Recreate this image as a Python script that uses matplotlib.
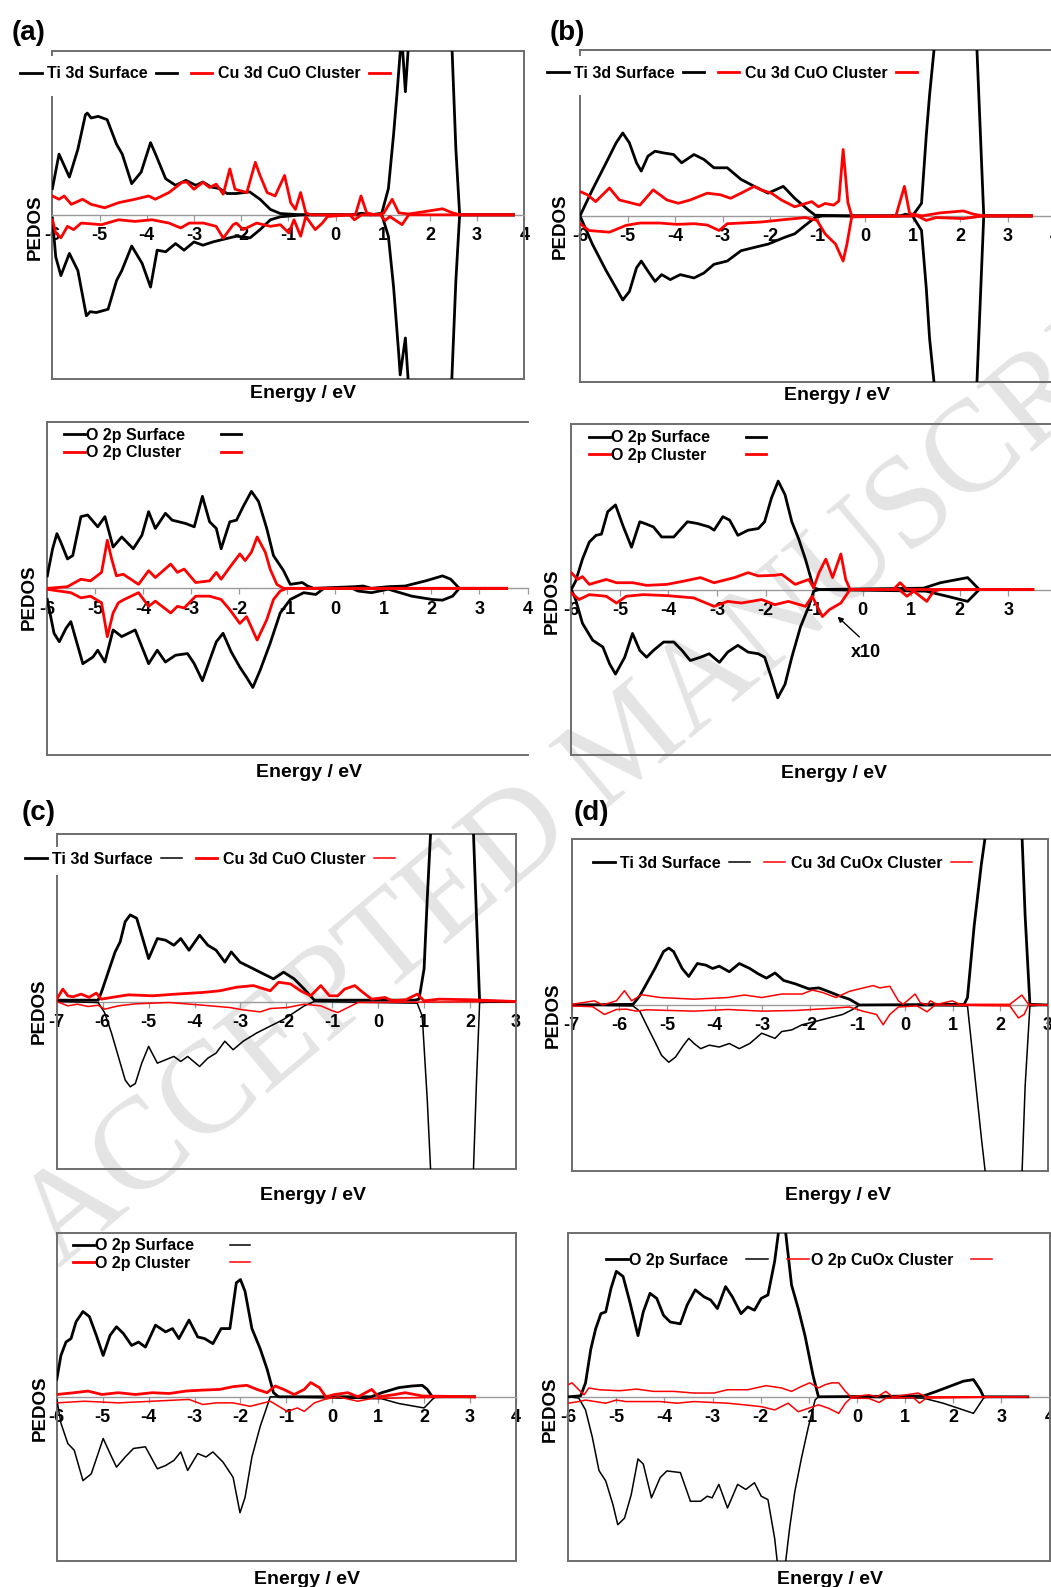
import matplotlib.pyplot as plt
from matplotlib.lines import Line2D
from matplotlib.patches import Rectangle

plt.rcParams['font.family'] = ['Liberation Sans', 'DejaVu Sans']
plt.rcParams['font.weight'] = 'bold'
plt.rcParams['axes.unicode_minus'] = False

W, H = 1051, 1587
THICK, THIN = 2.0, 1.1
BLACK, RED = 'black', '#ff0000'

# ---- (a) Ti 3d / Cu 3d : (energy eV, PEDOS) ----
a_ti_up = [(-6.0,1.6),(-5.86,3.7),(-5.64,2.3),(-5.46,4.0),(-5.3,6.1),(-5.26,6.2),(-5.18,5.9),(-5.03,6.0),(-4.84,5.8),(-4.64,4.3),(-4.52,3.7),(-4.32,1.9),(-4.12,2.6),(-3.92,4.4),(-3.8,3.6),(-3.6,2.2),(-3.39,1.8),(-3.17,2.1),(-2.96,1.8),(-2.81,2.0),(-2.64,1.7),(-2.46,1.6),(-2.3,1.3),(-2.1,1.3),(-1.82,1.4),(-1.6,0.95),(-1.38,0.33),(-1.17,0.08),(-0.7,0.0),(0.35,0.0),(0.55,0.1),(0.75,0.0),(0.98,0.1),(1.12,1.6),(1.23,4.9),(1.3,7.3),(1.4,11.0),(1.48,7.5),(1.56,11.0),(2.0,30.0),(2.47,10.0),(2.55,4.0),(2.63,0.0),(3.77,0.0)]
a_ti_dn = [(-6.0,-0.2),(-5.93,-2.55),(-5.82,-3.7),(-5.64,-2.35),(-5.46,-3.4),(-5.28,-6.15),(-5.2,-5.9),(-5.07,-5.95),(-4.82,-5.75),(-4.64,-4.0),(-4.53,-3.4),(-4.32,-1.9),(-4.1,-2.95),(-3.92,-4.4),(-3.78,-2.15),(-3.6,-2.25),(-3.39,-1.75),(-3.21,-2.15),(-3.0,-1.65),(-2.81,-1.85),(-2.6,-1.65),(-2.39,-1.5),(-2.1,-1.3),(-1.81,-1.4),(-1.6,-0.9),(-1.38,-0.3),(-1.17,-0.12),(-0.7,0.0),(0.98,0.0),(1.12,-1.3),(1.23,-4.4),(1.34,-8.5),(1.37,-9.75),(1.48,-7.5),(1.56,-11.0),(2.0,-30.0),(2.45,-11.0),(2.55,-4.0),(2.63,0.0),(3.77,0.0)]
a_cu_up = [(-6.0,1.15),(-5.86,0.95),(-5.75,1.15),(-5.6,0.64),(-5.36,0.95),(-5.18,0.64),(-4.89,0.43),(-4.6,0.74),(-4.25,0.95),(-3.96,1.15),(-3.82,0.95),(-3.53,1.36),(-3.25,1.98),(-3.15,2.0),(-3.0,1.56),(-2.81,1.98),(-2.67,1.67),(-2.53,1.87),(-2.38,1.26),(-2.24,2.8),(-2.13,1.56),(-1.88,1.36),(-1.7,3.2),(-1.6,2.4),(-1.45,1.36),(-1.28,1.15),(-1.08,2.4),(-0.95,0.74),(-0.85,0.33),(-0.74,1.36),(-0.63,0.12),(-0.52,0.0),(0.42,0.0),(0.54,1.15),(0.66,0.12),(0.85,0.0),(1.02,0.1),(1.2,0.95),(1.34,0.12),(1.55,0.05),(2.27,0.37),(2.45,0.15),(2.63,0.0),(3.77,0.0)]
a_cu_dn = [(-6.0,-0.3),(-5.93,-1.1),(-5.82,-1.4),(-5.68,-0.7),(-5.55,-0.9),(-5.39,-0.5),(-4.96,-0.6),(-4.6,-0.3),(-4.25,-0.4),(-3.89,-0.3),(-3.53,-0.5),(-3.28,-0.8),(-3.1,-0.5),(-2.8,-0.5),(-2.53,-0.7),(-2.38,-1.42),(-2.17,-0.6),(-2.1,-0.5),(-1.96,-0.9),(-1.67,-0.5),(-1.38,-0.7),(-1.17,-0.6),(-0.99,-1.1),(-0.88,-0.3),(-0.74,-1.3),(-0.63,-0.1),(-0.43,-0.9),(-0.28,-0.5),(-0.17,-0.1),(0.3,0.0),(0.4,-0.3),(0.55,0.0),(0.95,0.0),(1.05,-0.35),(1.15,-0.1),(1.41,-0.6),(1.55,0.0),(3.77,0.0)]

# ---- (a) O 2p ----
a_os_up = [(-6.0,0.75),(-5.89,2.38),(-5.8,3.29),(-5.72,2.78),(-5.58,1.77),(-5.47,1.97),(-5.3,4.31),(-5.16,4.41),(-4.95,3.7),(-4.8,4.31),(-4.63,2.48),(-4.45,3.09),(-4.21,2.38),(-4.03,3.19),(-3.89,4.61),(-3.75,3.6),(-3.54,4.51),(-3.4,4.1),(-3.12,3.9),(-2.94,3.7),(-2.77,5.53),(-2.62,4.0),(-2.48,3.6),(-2.38,2.38),(-2.2,4.0),(-2.06,4.1),(-1.92,4.92),(-1.75,5.83),(-1.6,5.22),(-1.43,3.6),(-1.29,1.97),(-1.08,1.06),(-0.94,0.24),(-0.8,0.3),(-0.69,0.35),(-0.58,0.14),(-0.45,0.0),(0.4,0.1),(0.58,0.14),(0.75,0.0),(1.1,0.1),(1.45,0.14),(1.88,0.45),(2.23,0.75),(2.4,0.55),(2.58,0.0),(3.56,0.0)]
a_os_dn = [(-6.0,-0.67),(-5.86,-2.7),(-5.75,-3.21),(-5.61,-2.4),(-5.51,-2.0),(-5.26,-4.53),(-5.05,-4.13),(-4.95,-3.72),(-4.8,-4.43),(-4.63,-2.5),(-4.45,-2.9),(-4.17,-2.5),(-3.89,-4.53),(-3.71,-3.72),(-3.54,-4.43),(-3.33,-4.02),(-3.08,-3.92),(-2.94,-4.53),(-2.77,-5.55),(-2.62,-4.33),(-2.48,-3.21),(-2.34,-2.7),(-2.17,-3.82),(-1.99,-4.74),(-1.85,-5.35),(-1.72,-5.96),(-1.57,-4.94),(-1.36,-3.31),(-1.15,-1.48),(-0.94,-0.67),(-0.66,-0.26),(-0.41,-0.37),(-0.24,0.0),(0.35,0.0),(0.47,-0.16),(0.75,-0.26),(1.1,-0.05),(1.59,-0.47),(2.02,-0.67),(2.23,-0.71),(2.44,-0.47),(2.58,0.0),(3.56,0.0)]
a_oc_up = [(-6.0,0.0),(-5.58,0.1),(-5.3,0.55),(-5.1,0.45),(-4.87,0.96),(-4.75,2.89),(-4.66,1.77),(-4.56,0.75),(-4.42,0.85),(-4.1,0.24),(-3.89,1.06),(-3.75,0.65),(-3.43,1.46),(-3.29,0.96),(-3.15,1.16),(-2.91,0.35),(-2.62,0.45),(-2.48,0.96),(-2.38,0.55),(-2.2,1.26),(-1.99,2.07),(-1.88,1.67),(-1.75,2.17),(-1.63,3.09),(-1.46,2.17),(-1.36,1.16),(-1.22,0.24),(-1.08,0.0),(3.56,0.0)]
a_oc_dn = [(-6.0,-0.06),(-5.51,-0.26),(-5.3,-0.57),(-5.1,-0.47),(-4.87,-0.87),(-4.75,-2.91),(-4.63,-1.48),(-4.52,-0.87),(-4.42,-0.7),(-4.1,-0.26),(-3.89,-1.08),(-3.75,-0.77),(-3.43,-1.48),(-3.29,-1.08),(-3.15,-1.18),(-2.91,-0.47),(-2.62,-0.47),(-2.38,-0.67),(-2.2,-1.28),(-1.99,-2.11),(-1.85,-1.7),(-1.63,-3.11),(-1.43,-1.89),(-1.29,-0.67),(-1.15,-0.16),(-1.01,0.0),(3.56,0.0)]

# ---- (b) Ti 3d / Cu 3d ----
b_ti_up = [(-6.0,0.0),(-5.74,1.57),(-5.45,3.2),(-5.24,4.4),(-5.1,5.0),(-4.96,4.4),(-4.81,3.2),(-4.71,2.7),(-4.57,3.6),(-4.42,3.9),(-4.25,3.8),(-4.03,3.7),(-3.86,3.2),(-3.6,3.7),(-3.39,3.4),(-3.18,2.9),(-2.9,2.9),(-2.61,2.2),(-2.33,1.78),(-2.04,1.37),(-1.72,1.78),(-1.48,1.06),(-1.19,0.35),(-1.05,0.04),(-0.34,0.0),(0.75,0.0),(0.85,0.1),(1.0,0.0),(1.19,0.76),(1.29,4.85),(1.36,7.3),(1.47,10.5),(1.9,30.0),(2.35,10.5),(2.5,0.0),(3.5,0.0)]
b_ti_dn = [(-6.0,0.0),(-5.74,-1.7),(-5.45,-3.3),(-5.24,-4.35),(-5.1,-5.07),(-4.96,-4.56),(-4.81,-3.13),(-4.71,-2.72),(-4.57,-3.33),(-4.42,-3.95),(-4.28,-3.54),(-4.1,-3.84),(-3.89,-3.54),(-3.6,-3.74),(-3.39,-3.44),(-3.18,-2.92),(-2.9,-2.72),(-2.61,-2.1),(-2.33,-1.9),(-2.04,-1.7),(-1.69,-1.29),(-1.48,-1.08),(-1.26,-0.57),(-1.05,-0.1),(-0.9,0.0),(1.0,0.0),(1.19,-0.88),(1.29,-4.36),(1.36,-7.4),(1.47,-10.5),(1.9,-30.0),(2.35,-10.5),(2.5,0.0),(3.5,0.0)]
b_cu_up = [(-6.0,1.47),(-5.84,1.27),(-5.67,0.86),(-5.38,1.68),(-5.17,0.96),(-4.74,0.65),(-4.46,1.57),(-4.17,0.96),(-3.93,0.76),(-3.68,0.96),(-3.32,1.37),(-3.04,1.27),(-2.83,1.06),(-2.61,1.37),(-2.33,1.78),(-2.19,1.57),(-1.97,1.37),(-1.76,0.96),(-1.48,0.55),(-1.12,0.86),(-0.98,0.55),(-0.84,0.75),(-0.66,0.65),(-0.55,0.9),(-0.46,4.0),(-0.36,0.8),(-0.28,0.0),(0.65,0.0),(0.83,1.78),(0.94,0.14),(1.2,0.0),(1.58,0.18),(2.07,0.3),(2.29,0.1),(2.5,0.0),(3.5,0.0)]
b_cu_dn = [(-6.0,-0.47),(-5.81,-0.88),(-5.38,-0.98),(-5.03,-0.57),(-4.74,-0.43),(-4.32,-0.43),(-3.96,-0.51),(-3.6,-0.47),(-3.32,-0.55),(-3.07,-0.88),(-2.9,-0.47),(-2.19,-0.37),(-1.69,-0.22),(-1.26,-0.1),(-1.01,-0.27),(-0.84,-1.08),(-0.62,-1.7),(-0.46,-2.72),(-0.38,-1.7),(-0.28,-0.06),(1.1,0.0),(1.29,-0.27),(1.5,-0.1),(2.07,-0.16),(2.5,0.0),(3.5,0.0)]

# ---- (b) O 2p ----
b_os_up = [(-6.0,0.0),(-5.91,0.51),(-5.77,1.84),(-5.63,2.87),(-5.49,3.28),(-5.38,3.35),(-5.25,4.71),(-5.09,5.12),(-4.94,3.89),(-4.76,2.56),(-4.59,4.1),(-4.49,4.0),(-4.31,3.79),(-4.14,3.18),(-3.89,3.18),(-3.61,4.1),(-3.41,4.0),(-3.16,3.79),(-3.06,3.59),(-2.88,4.41),(-2.74,4.2),(-2.57,3.28),(-2.36,3.59),(-2.15,3.69),(-2.02,4.1),(-1.88,5.53),(-1.74,6.56),(-1.6,5.74),(-1.46,4.1),(-1.32,3.07),(-1.18,1.84),(-1.01,0.1),(-0.9,0.0),(1.25,0.08),(1.6,0.41),(2.16,0.72),(2.4,0.0),(3.5,0.0)]
b_os_dn = [(-6.0,0.0),(-5.91,-0.61),(-5.77,-2.05),(-5.56,-3.07),(-5.35,-3.48),(-5.21,-4.51),(-5.09,-5.12),(-4.9,-4.1),(-4.74,-2.66),(-4.59,-3.69),(-4.45,-4.1),(-4.31,-3.69),(-4.1,-3.18),(-3.89,-3.18),(-3.72,-3.69),(-3.55,-4.3),(-3.34,-4.1),(-3.16,-3.89),(-2.95,-4.41),(-2.78,-3.79),(-2.57,-3.38),(-2.36,-3.79),(-2.15,-3.89),(-2.02,-4.1),(-1.88,-5.33),(-1.75,-6.56),(-1.6,-5.74),(-1.46,-4.1),(-1.28,-2.25),(-1.11,-1.02),(-1.01,-0.1),(-0.9,0.0),(1.3,-0.1),(1.74,-0.41),(2.16,-0.72),(2.4,0.0),(3.5,0.0)]
b_oc_up = [(-6.0,1.02),(-5.87,0.61),(-5.77,0.78),(-5.63,0.31),(-5.28,0.61),(-5.07,0.41),(-4.73,0.41),(-4.45,0.25),(-4.03,0.31),(-3.68,0.51),(-3.34,0.72),(-3.06,0.41),(-2.64,0.72),(-2.36,1.02),(-2.15,0.82),(-1.81,0.86),(-1.67,0.92),(-1.39,0.31),(-1.11,0.61),(-1.01,0.1),(-0.9,1.02),(-0.76,1.84),(-0.62,0.72),(-0.45,2.15),(-0.35,0.61),(-0.26,0.0),(0.63,0.0),(0.77,0.41),(0.91,0.0),(3.5,0.0)]
b_oc_dn = [(-6.0,-0.2),(-5.84,-0.61),(-5.63,-0.31),(-5.28,-0.41),(-5.07,-0.82),(-4.87,-0.41),(-4.52,-0.31),(-4.03,-0.37),(-3.48,-0.51),(-3.06,-1.02),(-2.78,-0.72),(-2.5,-0.82),(-2.08,-0.61),(-1.81,-0.92),(-1.53,-0.72),(-1.18,-1.02),(-1.04,-0.41),(-0.83,-1.64),(-0.69,-1.23),(-0.45,-0.82),(-0.26,0.0),(0.75,0.0),(0.91,-0.41),(1.05,-0.1),(1.32,-0.72),(1.46,-0.1),(1.6,0.0),(3.5,0.0)]

# ---- (c) Ti 3d / Cu 3d ----
c_ti_up = [(-7.0,0.08),(-6.1,0.08),(-6.03,0.54),(-5.88,1.75),(-5.73,2.96),(-5.62,3.56),(-5.51,4.77),(-5.4,5.17),(-5.26,4.97),(-5.15,3.96),(-5.0,2.56),(-4.81,3.76),(-4.63,3.66),(-4.45,3.36),(-4.3,3.76),(-4.12,3.06),(-3.89,3.96),(-3.71,3.36),(-3.53,3.06),(-3.34,2.35),(-3.2,2.96),(-3.01,2.35),(-2.79,2.05),(-2.5,1.65),(-2.28,1.35),(-2.06,1.75),(-1.83,1.35),(-1.61,0.74),(-1.39,0.08),(0.8,0.08),(0.89,0.14),(1.0,1.95),(1.07,6.18),(1.15,10.5),(1.6,30.0),(2.07,10.5),(2.14,5.17),(2.21,0.0),(3.0,0.0)]
c_ti_dn = [(-7.0,0.0),(-6.1,-0.06),(-5.96,-0.66),(-5.81,-1.87),(-5.66,-3.28),(-5.51,-4.69),(-5.4,-5.09),(-5.29,-4.9),(-5.15,-3.68),(-5.0,-2.68),(-4.81,-3.68),(-4.63,-3.48),(-4.45,-3.28),(-4.3,-3.58),(-4.15,-3.28),(-3.89,-3.88),(-3.71,-3.38),(-3.53,-3.08),(-3.34,-2.37),(-3.16,-2.88),(-2.94,-2.37),(-2.64,-1.87),(-2.35,-1.47),(-2.06,-1.07),(-1.83,-0.66),(-1.61,-0.26),(-1.39,0.0),(0.85,-0.1),(0.96,-0.87),(1.07,-5.9),(1.15,-10.5),(1.6,-30.0),(2.07,-10.5),(2.14,-4.9),(2.21,-0.06),(3.0,0.0)]
c_cu_up = [(-7.0,0.14),(-6.87,0.74),(-6.76,0.34),(-6.65,0.28),(-6.47,0.44),(-6.3,0.25),(-6.14,0.5),(-6.03,0.14),(-5.81,0.24),(-5.44,0.4),(-4.92,0.34),(-4.41,0.44),(-3.82,0.54),(-3.45,0.64),(-3.09,0.85),(-2.72,0.95),(-2.35,0.64),(-2.17,1.15),(-1.91,1.05),(-1.69,0.64),(-1.47,0.34),(-1.25,0.95),(-1.06,0.34),(-0.88,0.34),(-0.73,0.74),(-0.51,0.95),(-0.33,0.54),(-0.14,0.14),(0.15,0.24),(0.3,0.05),(0.6,0.1),(0.85,0.44),(1.0,0.04),(1.33,0.14),(2.07,0.1),(3.0,0.0)]
c_cu_dn = [(-7.0,0.0),(-6.76,-0.26),(-6.55,-0.16),(-6.32,-0.3),(-6.1,-0.22),(-5.96,-0.46),(-5.66,-0.26),(-5.29,-0.14),(-4.56,-0.06),(-3.82,-0.22),(-3.23,-0.36),(-2.94,-0.5),(-2.57,-0.62),(-2.35,-0.42),(-1.98,-0.36),(-1.61,-0.16),(-1.25,-0.26),(-0.99,-0.56),(-0.88,-0.66),(-0.66,-0.36),(-0.44,-0.06),(3.0,0.0)]

# ---- (c) O 2p ----
c_os_up = [(-6.0,1.07),(-5.91,2.52),(-5.8,3.34),(-5.69,3.55),(-5.58,4.58),(-5.43,5.2),(-5.29,4.89),(-5.14,3.75),(-4.99,2.52),(-4.84,3.75),(-4.7,4.27),(-4.55,3.86),(-4.37,3.13),(-4.22,3.34),(-4.07,3.03),(-3.85,4.37),(-3.63,3.96),(-3.48,4.16),(-3.34,3.55),(-3.12,4.68),(-2.93,3.65),(-2.78,3.55),(-2.6,3.24),(-2.42,4.16),(-2.23,4.16),(-2.09,6.95),(-2.0,7.15),(-1.9,6.43),(-1.75,4.16),(-1.57,2.93),(-1.42,1.69),(-1.28,0.25),(-1.17,0.0),(0.85,0.0),(1.08,0.25),(1.45,0.56),(1.74,0.66),(1.96,0.7),(2.07,0.45),(2.18,0.0),(3.1,0.0)]
c_os_dn = [(-6.0,-0.16),(-5.91,-1.61),(-5.76,-2.85),(-5.62,-3.26),(-5.43,-5.11),(-5.25,-4.7),(-5.1,-3.46),(-4.99,-2.54),(-4.84,-3.46),(-4.7,-4.29),(-4.51,-3.67),(-4.33,-3.15),(-4.07,-3.05),(-3.81,-4.39),(-3.63,-4.19),(-3.45,-3.88),(-3.3,-3.36),(-3.15,-4.49),(-2.93,-3.46),(-2.75,-3.67),(-2.6,-3.36),(-2.38,-3.98),(-2.16,-4.91),(-2.01,-7.07),(-1.9,-6.14),(-1.75,-3.67),(-1.57,-1.81),(-1.42,-0.58),(-1.35,0.0),(1.08,-0.12),(1.45,-0.41),(2.0,-0.68),(2.18,-0.16),(2.25,0.0),(3.1,0.0)]
c_oc_up = [(-6.0,0.14),(-5.62,0.25),(-5.32,0.35),(-5.02,0.14),(-4.66,0.25),(-4.29,0.14),(-3.92,0.25),(-3.55,0.2),(-3.19,0.35),(-2.82,0.41),(-2.45,0.45),(-2.16,0.62),(-1.86,0.7),(-1.64,0.45),(-1.42,0.25),(-1.24,0.66),(-1.06,0.45),(-0.83,0.14),(-0.61,0.45),(-0.47,0.87),(-0.28,0.56),(-0.14,0.0),(0.05,0.14),(0.34,0.25),(0.56,0.0),(0.86,0.45),(1.01,0.0),(1.37,0.14),(1.59,0.25),(1.96,0.05),(3.1,0.0)]
c_oc_dn = [(-6.0,-0.37),(-5.4,-0.27),(-4.66,-0.37),(-3.92,-0.27),(-3.12,-0.16),(-2.82,-0.47),(-2.53,-0.37),(-2.16,-0.37),(-1.79,-0.58),(-1.35,-0.27),(-0.98,-0.89),(-0.76,-0.68),(-0.61,-0.89),(-0.39,-0.37),(-0.17,-0.16),(0.12,0.0),(0.56,-0.27),(0.86,-0.1),(3.1,0.0)]

# ---- (d) Ti 3d / Cu 3d ----
d_ti_up = [(-7.0,0.0),(-5.71,0.04),(-5.57,0.55),(-5.43,1.27),(-5.25,2.2),(-5.07,3.22),(-4.96,3.43),(-4.86,3.22),(-4.68,2.2),(-4.54,1.72),(-4.36,2.5),(-4.18,2.4),(-4.04,2.2),(-3.9,2.34),(-3.69,2.0),(-3.48,2.5),(-3.26,2.2),(-3.09,1.89),(-2.91,1.62),(-2.73,1.93),(-2.55,1.48),(-2.3,1.27),(-2.02,0.97),(-1.81,1.03),(-1.56,0.76),(-1.38,0.55),(-1.17,0.35),(-0.96,0.0),(1.24,0.04),(1.31,0.45),(1.45,4.76),(1.6,8.46),(1.7,10.5),(2.0,30.0),(2.45,10.5),(2.52,5.38),(2.62,0.04),(3.0,0.0)]
d_ti_dn = [(-7.0,0.0),(-5.71,-0.06),(-5.57,-0.37),(-5.43,-1.19),(-5.25,-2.22),(-5.11,-3.04),(-4.96,-3.45),(-4.82,-3.14),(-4.65,-2.42),(-4.54,-2.01),(-4.43,-2.32),(-4.29,-2.63),(-4.11,-2.42),(-3.9,-2.53),(-3.69,-2.32),(-3.48,-2.63),(-3.26,-2.32),(-3.01,-1.7),(-2.73,-2.01),(-2.59,-1.6),(-2.38,-1.5),(-2.16,-1.19),(-1.88,-0.99),(-1.6,-0.78),(-1.31,-0.57),(-1.1,-0.27),(-0.96,0.0),(1.31,-0.06),(1.45,-3.86),(1.6,-7.97),(1.7,-10.5),(2.0,-30.0),(2.45,-10.5),(2.52,-4.89),(2.62,-0.06),(3.0,0.0)]
d_cu_up = [(-7.0,0.04),(-6.52,0.25),(-6.35,0.0),(-6.06,0.25),(-5.89,0.86),(-5.74,0.25),(-5.53,0.62),(-5.14,0.45),(-4.43,0.35),(-3.72,0.45),(-3.37,0.6),(-3.01,0.45),(-2.59,0.66),(-2.16,0.66),(-1.95,0.9),(-1.74,0.76),(-1.45,0.45),(-1.17,0.82),(-0.96,0.97),(-0.67,1.17),(-0.53,1.03),(-0.32,1.13),(-0.14,0.25),(-0.04,0.04),(0.21,0.66),(0.32,0.14),(0.46,0.0),(0.53,0.25),(0.67,0.04),(0.99,0.25),(1.15,0.04),(2.2,0.04),(2.45,0.6),(2.59,0.04),(3.0,0.0)]
d_cu_dn = [(-7.0,-0.06),(-6.56,-0.1),(-6.31,-0.57),(-6.06,-0.27),(-5.85,-0.25),(-5.64,-0.37),(-5.43,-0.29),(-4.43,-0.37),(-3.72,-0.27),(-3.01,-0.37),(-2.3,-0.33),(-1.6,-0.21),(-1.17,-0.12),(-0.89,-0.37),(-0.6,-0.57),(-0.46,-1.19),(-0.32,-0.57),(-0.14,-0.12),(0.25,-0.05),(0.46,-0.41),(0.63,0.0),(2.2,-0.06),(2.38,-0.78),(2.5,-0.57),(2.59,0.0),(3.0,0.0)]

# ---- (d) O 2p ----
d_os_up = [(-6.0,0.0),(-5.74,0.06),(-5.64,0.85),(-5.53,2.91),(-5.43,4.14),(-5.32,5.07),(-5.22,5.18),(-5.11,6.62),(-5.0,7.65),(-4.86,7.34),(-4.72,5.79),(-4.55,3.73),(-4.44,5.18),(-4.3,6.31),(-4.16,6.0),(-4.02,4.97),(-3.88,4.56),(-3.67,4.45),(-3.53,5.59),(-3.36,6.52),(-3.18,6.1),(-3.04,5.9),(-2.9,5.38),(-2.73,6.72),(-2.59,6.1),(-2.41,5.07),(-2.27,5.48),(-2.13,5.28),(-1.99,6.0),(-1.85,6.21),(-1.71,8.27),(-1.61,10.5),(-1.5,10.5),(-1.36,6.82),(-1.22,5.38),(-1.08,3.73),(-0.91,1.26),(-0.8,0.0),(1.38,0.05),(1.65,0.33),(1.93,0.64),(2.21,0.95),(2.42,1.05),(2.56,0.43),(2.63,0.0),(3.55,0.0)]
d_os_dn = [(-6.0,0.0),(-5.78,-0.08),(-5.64,-0.8),(-5.5,-2.45),(-5.36,-4.5),(-5.22,-5.13),(-5.07,-6.58),(-4.97,-7.8),(-4.83,-7.4),(-4.69,-5.96),(-4.55,-3.79),(-4.44,-4.1),(-4.27,-6.16),(-4.09,-4.93),(-3.95,-4.52),(-3.67,-4.62),(-3.46,-6.37),(-3.25,-6.37),(-3.11,-6.06),(-3.01,-6.16),(-2.87,-5.34),(-2.69,-6.78),(-2.48,-5.34),(-2.31,-5.65),(-2.13,-5.24),(-1.99,-6.06),(-1.85,-6.27),(-1.71,-8.64),(-1.64,-10.5),(-1.5,-10.5),(-1.4,-8.02),(-1.29,-5.75),(-1.15,-3.69),(-1.01,-1.84),(-0.87,-0.19),(-0.8,0.0),(1.38,-0.08),(1.79,-0.39),(2.21,-0.8),(2.42,-1.01),(2.63,-0.08),(2.7,0.0),(3.55,0.0)]
d_oc_up = [(-6.0,0.74),(-5.92,0.85),(-5.78,0.43),(-5.67,0.12),(-5.57,0.54),(-5.36,0.43),(-4.93,0.37),(-4.58,0.47),(-4.23,0.33),(-3.81,0.33),(-3.39,0.23),(-2.97,0.23),(-2.69,0.43),(-2.27,0.43),(-1.89,0.68),(-1.57,0.54),(-1.36,0.33),(-1.15,0.64),(-0.98,0.85),(-0.8,0.54),(-0.66,0.74),(-0.52,0.85),(-0.38,0.85),(-0.24,0.33),(-0.13,0.0),(0.25,0.12),(0.42,0.0),(0.6,0.33),(0.74,0.0),(1.27,0.23),(1.44,0.0),(3.55,0.0)]
d_oc_dn = [(-6.0,-0.39),(-5.78,-0.29),(-5.64,-0.2),(-5.22,-0.39),(-5.0,-0.2),(-4.8,-0.29),(-4.09,-0.29),(-3.74,-0.39),(-3.39,-0.29),(-2.69,-0.39),(-2.34,-0.49),(-1.99,-0.6),(-1.71,-0.8),(-1.43,-0.39),(-1.22,-0.91),(-1.01,-0.7),(-0.8,-0.49),(-0.59,-0.7),(-0.38,-1.01),(-0.24,-0.39),(-0.13,-0.08),(0.25,-0.1),(0.46,-0.35),(0.6,-0.08),(1.17,-0.05),(1.3,-0.39),(1.44,-0.08),(3.55,0.0)]

FRAME = '#6e6e6e'
ZERO = '#9a9a9a'

fig = plt.figure(figsize=(W / 100, H / 100), dpi=100)

# watermark behind everything
fig.text(632 / W, 1 - 746 / H, 'ACCEPTED MANUSCRIPT', rotation=40,
         rotation_mode='anchor', ha='center', va='center', fontsize=94,
         family='Liberation Serif', weight='normal', color='#e4e4e4', zorder=-1)


def panel(l, t, r, b, xlim, curves, right=True):
    ax = fig.add_axes([l / W, 1 - b / H, (r - l) / W, (b - t) / H])
    ax.set_facecolor('none')
    for data, color, lw in curves:
        e, v = zip(*data)
        ax.plot(e, v, color=color, lw=lw, zorder=3, solid_joinstyle='round')
    ax.set_xlim(*xlim)
    ax.set_ylim(-10, 10)
    ax.set_xticks(range(xlim[0], xlim[1] + 1))
    ax.set_yticks([])
    ax.tick_params(axis='x', direction='out', length=4, width=0.9, color=ZERO,
                   pad=5, labelsize=13)
    for s in ('left', 'top', 'right'):
        ax.spines[s].set_color(FRAME)
        ax.spines[s].set_linewidth(1.4)
    ax.spines['right'].set_visible(right)
    ax.spines['bottom'].set_position(('data', 0))
    ax.spines['bottom'].set_color(ZERO)
    ax.spines['bottom'].set_linewidth(1.0)
    ax.plot([0, 1], [0, 0], transform=ax.transAxes, color=FRAME, lw=1.4,
            clip_on=False)
    return ax


def spine_gap(x0, y0, x1, y1):
    # white patch where the legend breaks the left frame line
    fig.add_artist(Rectangle((x0 / W, 1 - y1 / H), (x1 - x0) / W,
                             (y1 - y0) / H, transform=fig.transFigure,
                             facecolor='white', edgecolor='none', zorder=1))


def labels(px, py, ex, ey):
    fig.text(px / W, 1 - py / H, 'PEDOS', rotation=90, ha='center',
             va='center', fontsize=13.5)
    fig.text(ex / W, 1 - ey / H, 'Energy / eV', ha='center', va='center',
             fontsize=14)


def legend(entries, x, y, ncol, hl=1.35, tp=0.35, cs=0.5, ls=0.15):
    handles = [Line2D([], [], color=c, lw=w) for c, w, _ in entries]
    names = [n for _, _, n in entries]
    # x is where the first handle starts
    fig.legend(handles, names, loc='center left', ncol=ncol,
               bbox_to_anchor=(x / W, 1 - y / H), borderaxespad=0,
               borderpad=0, frameon=False, handlelength=hl,
               handletextpad=tp, columnspacing=cs, labelspacing=ls,
               prop={'weight': 'bold', 'size': 11.5})


# (a) top
panel(52.4, 50.7, 524.3, 379, (-6, 4),
      [(a_ti_up, BLACK, THICK), (a_ti_dn, BLACK, THICK),
       (a_cu_up, RED, THICK), (a_cu_dn, RED, THICK)])
labels(35, 227, 303, 394)
spine_gap(47, 56, 58, 96)
legend([(BLACK, THICK, 'Ti 3d Surface'), (BLACK, THICK, ''),
        (RED, THICK, 'Cu 3d CuO Cluster'), (RED, THICK, '')], 20, 74, 4)

# (b) top
panel(580, 50, 1055, 381.8, (-6, 4),
      [(b_ti_up, BLACK, THICK), (b_ti_dn, BLACK, THICK),
       (b_cu_up, RED, THICK), (b_cu_dn, RED, THICK)], right=False)
labels(560.5, 226, 837, 396)
spine_gap(575, 56, 586, 95)
legend([(BLACK, THICK, 'Ti 3d Surface'), (BLACK, THICK, ''),
        (RED, THICK, 'Cu 3d CuO Cluster'), (RED, THICK, '')], 547, 73.5, 4)

# (a) bottom
panel(47.3, 422, 527.5, 754.7, (-6, 4),
      [(a_os_up, BLACK, THICK), (a_os_dn, BLACK, THICK),
       (a_oc_up, RED, THICK), (a_oc_dn, RED, THICK)], right=False)
labels(29, 597, 309, 772)
legend([(BLACK, THICK, 'O 2p Surface'), (RED, THICK, 'O 2p Cluster'),
        (BLACK, THICK, ''), (RED, THICK, '')], 64, 444, 2,
       hl=1.3, tp=0.1, cs=2.2)

# (b) bottom
ax_bb = panel(571.3, 424.3, 1057, 754.7, (-6, 4),
              [(b_os_up, BLACK, THICK), (b_os_dn, BLACK, THICK),
               (b_oc_up, RED, THICK), (b_oc_dn, RED, THICK)], right=False)
labels(552, 601, 834, 773)
legend([(BLACK, THICK, 'O 2p Surface'), (RED, THICK, 'O 2p Cluster'),
        (BLACK, THICK, ''), (RED, THICK, '')], 589, 446.5, 2,
       hl=1.3, tp=0.1, cs=2.2)
ax_bb.annotate('', xy=(-0.52, -1.64), xytext=(-0.07, -2.87),
               arrowprops=dict(arrowstyle='-|>', color='black', lw=1.0,
                               mutation_scale=8, shrinkA=0, shrinkB=0))
ax_bb.text(0.07, -3.79, 'x10', ha='center', va='center', fontsize=13)

# (c) top
panel(56.8, 834, 515.9, 1169, (-7, 3),
      [(c_ti_up, BLACK, THICK), (c_ti_dn, BLACK, THIN),
       (c_cu_up, RED, THICK), (c_cu_dn, RED, THIN)])
labels(39, 1011, 313, 1195)
spine_gap(52, 847, 62, 875)
legend([(BLACK, THICK, 'Ti 3d Surface'), (BLACK, THIN, ''),
        (RED, THICK, 'Cu 3d CuO Cluster'), (RED, THIN, '')], 25, 859, 4)

# (d) top
panel(571.6, 839, 1048, 1171, (-7, 3),
      [(d_ti_up, BLACK, THICK), (d_ti_dn, BLACK, THIN),
       (d_cu_up, RED, THIN), (d_cu_dn, RED, THIN)])
labels(553.7, 1015, 838, 1195)
legend([(BLACK, THICK, 'Ti 3d Surface'), (BLACK, THIN, ''),
        (RED, THIN, 'Cu 3d CuOx Cluster'), (RED, THIN, '')], 593, 863, 4)

# (c) bottom
panel(56.8, 1232.8, 515.9, 1560.8, (-6, 4),
      [(c_os_up, BLACK, THICK), (c_os_dn, BLACK, THIN),
       (c_oc_up, RED, THICK), (c_oc_dn, RED, THIN)])
labels(40.5, 1408, 307, 1579)
legend([(BLACK, THICK, 'O 2p Surface'), (RED, THICK, 'O 2p Cluster'),
        (BLACK, THIN, ''), (RED, THIN, '')], 73, 1254.5, 2,
       hl=1.3, tp=0.1, cs=2.2)

# (d) bottom
panel(568.2, 1232.8, 1049.5, 1560.8, (-6, 4),
      [(d_os_up, BLACK, THICK), (d_os_dn, BLACK, THIN),
       (d_oc_up, RED, THIN), (d_oc_dn, RED, THIN)])
labels(550, 1409, 830, 1579)
legend([(BLACK, THICK, 'O 2p Surface'), (BLACK, THIN, ''),
        (RED, THIN, 'O 2p CuOx Cluster'), (RED, THIN, '')], 606, 1260, 4,
       tp=0.12, cs=1.1)

# panel letters
for tag, x, y in [('(a)', 12, 33), ('(b)', 550, 33), ('(c)', 22, 813), ('(d)', 574, 813)]:
    fig.text(x / W, 1 - y / H, tag, ha='left', va='center', fontsize=20)

fig.savefig('out.png', dpi=100)
